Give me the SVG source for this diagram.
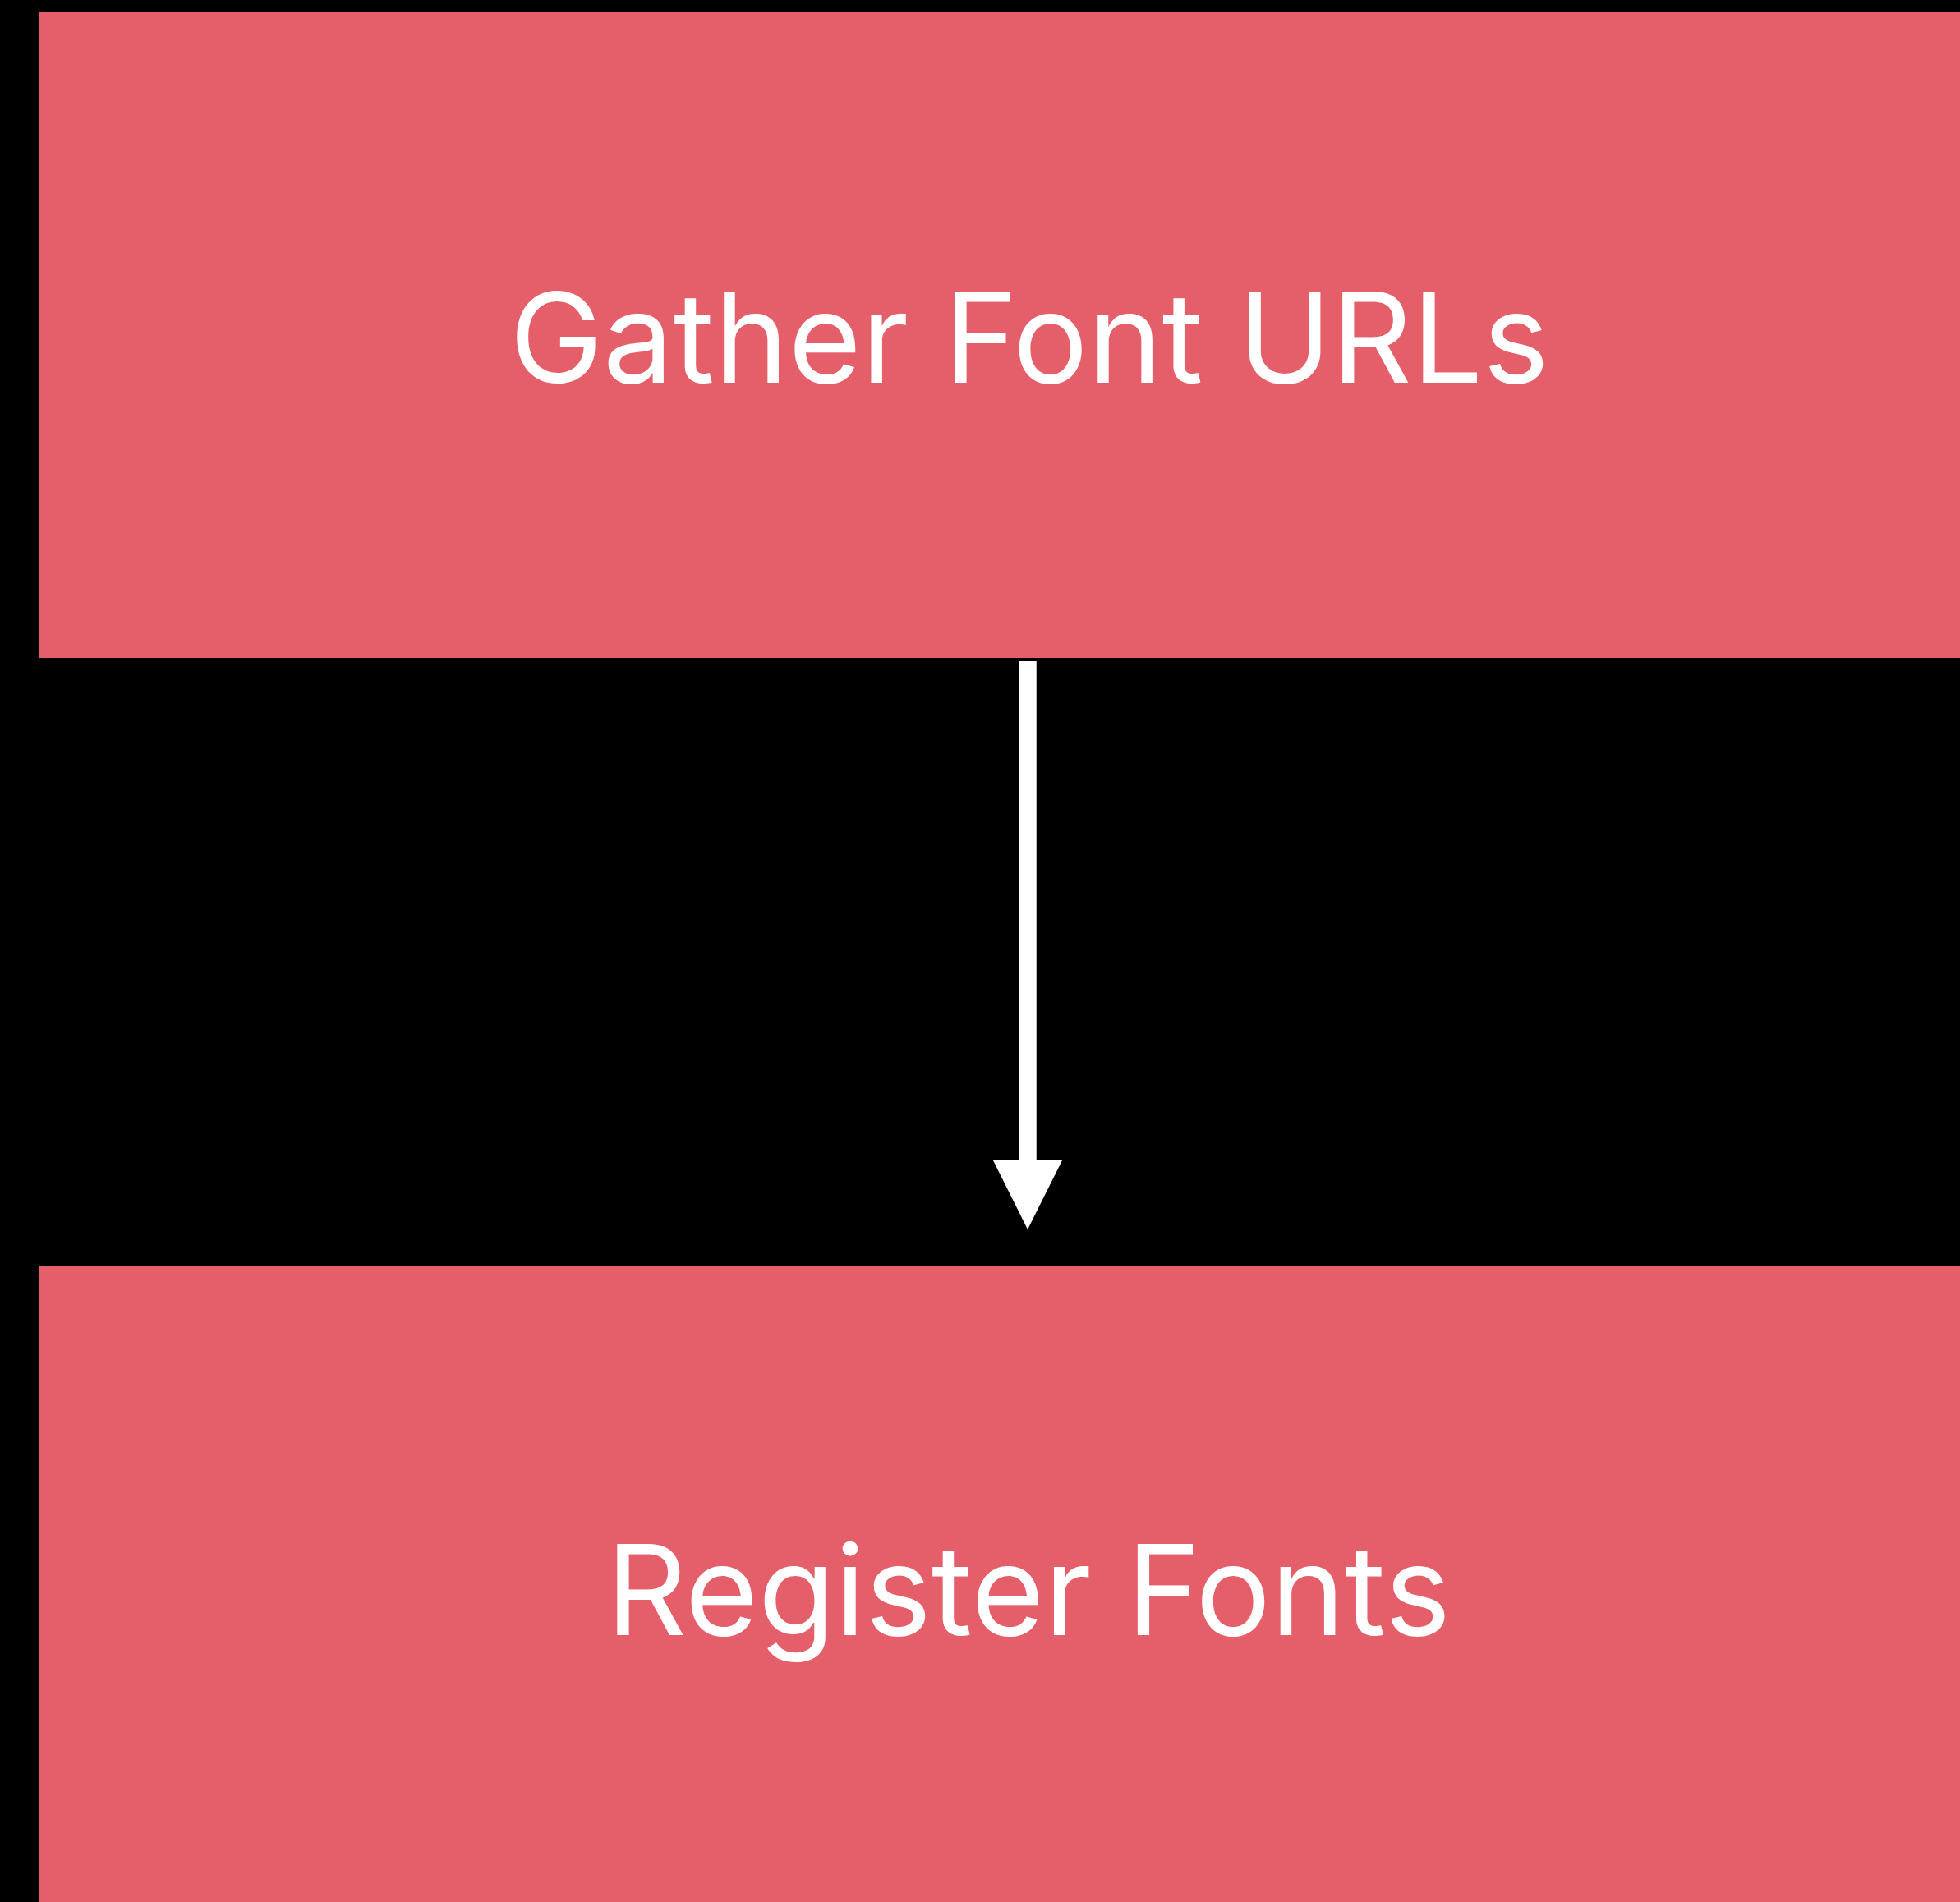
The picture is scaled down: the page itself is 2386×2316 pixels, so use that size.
<svg xmlns="http://www.w3.org/2000/svg" width="2386" height="2316" viewBox="0 0 2386 2316">
<style>
.node rect{fill:#e45f6a}
.node text{fill:#ffffff;font-family:Inter,"Noto Sans",sans-serif;font-size:152.5px;text-anchor:middle}
</style>
<defs>
<marker id="ah" markerUnits="userSpaceOnUse" markerWidth="84" markerHeight="84" refX="0" refY="42" orient="auto" viewBox="0 0 84 84">
<path d="M0,0 L84,42 L0,84 Z" fill="#ffffff"/>
</marker>
</defs>
<rect x="0" y="0" width="2386" height="2316" fill="#000000"/>
<g id="node-gather" class="node">
<rect x="48" y="15" width="2406" height="786"/>
<text x="1253" y="466">Gather Font URLs</text>
</g>
<g id="node-register" class="node">
<rect x="48" y="1542" width="2406" height="800"/>
<text x="1252" y="1991">Register Fonts</text>
</g>
<g id="connectors">
<line x1="1251" y1="805" x2="1251" y2="1413" stroke="#ffffff" stroke-width="21.5" marker-end="url(#ah)"/>
</g>
</svg>
